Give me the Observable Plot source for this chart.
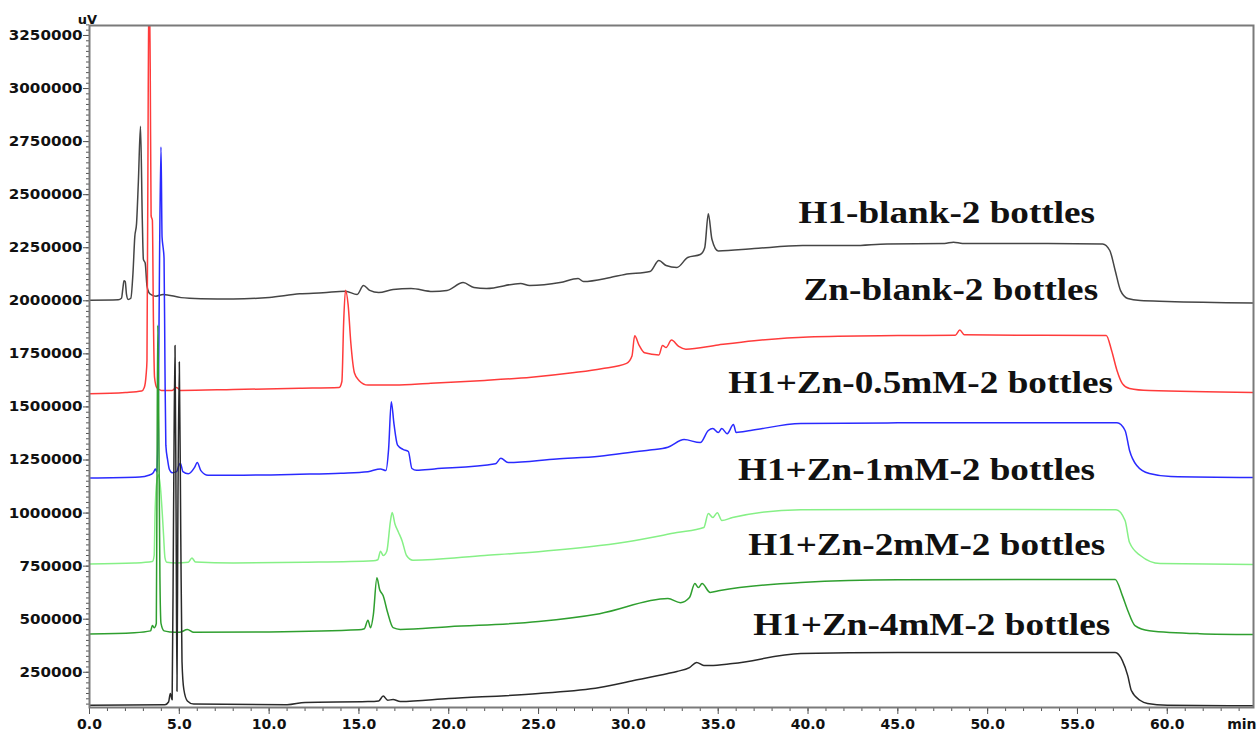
<!DOCTYPE html>
<html>
<head>
<meta charset="utf-8">
<script src="https://cdn.jsdelivr.net/npm/d3@7"></script>
<script src="https://cdn.jsdelivr.net/npm/@observablehq/plot@0.6"></script>
<style>
  html, body { margin: 0; padding: 0; background: #fff; }
  #chart { width: 1257px; height: 733px; }
</style>
</head>
<body>
<div id="chart"></div>
<script>
// ---- Data: [time (min), signal (uV)] ----
const h1Blank = [[0,2003000],[1.6,2005000],[1.78,2012000],[1.86,2060000],[1.92,2095000],[1.99,2090000],[2.06,2030000],[2.15,2006000],[2.3,2012000],[2.42,2130000],[2.52,2300000],[2.62,2365000],[2.72,2560000],[2.84,2822000],[2.94,2380000],[3.0,2195000],[3.1,2178000],[3.2,2070000],[3.3,2040000],[3.45,2028000],[3.7,2022000],[4.1,2030000],[5.1,2015000],[6.2,2010000],[8.0,2008000],[10.0,2016000],[11.7,2033000],[13.0,2038000],[14.25,2045000],[14.9,2030000],[15.25,2072000],[15.6,2049000],[16.1,2039000],[16.9,2053000],[17.9,2058000],[19.1,2044000],[19.9,2049000],[20.8,2086000],[21.4,2063000],[22.1,2058000],[24.0,2082000],[24.5,2072000],[26.2,2086000],[27.2,2105000],[27.5,2091000],[29.0,2110000],[29.8,2124000],[31.2,2138000],[31.7,2190000],[32.1,2166000],[32.7,2157000],[33.3,2204000],[34.0,2218000],[34.25,2250000],[34.45,2410000],[34.65,2290000],[35.0,2235000],[37.0,2246000],[39.7,2260000],[42.5,2260000],[44.4,2268000],[47.6,2270000],[48.1,2276000],[48.6,2270000],[52.0,2270000],[56.4,2268000],[56.8,2237000],[57.1,2143000],[57.4,2048000],[57.8,2011000],[58.5,2001000],[60.0,1997000],[64.8,1990000]];

const znBlank = [[0,1562000],[2,1568000],[2.9,1575000],[3.05,1592000],[3.15,1650000],[3.2,1720000],[3.27,3000000],[3.32,3550000],[3.38,3100000],[3.43,2400000],[3.5,2380000],[3.56,1900000],[3.62,1640000],[3.75,1590000],[4.0,1578000],[4.6,1578000],[4.85,1592000],[5.05,1578000],[8,1582000],[11.7,1588000],[13.9,1592000],[14.05,1620000],[14.15,1900000],[14.25,2050000],[14.4,1980000],[14.55,1800000],[14.75,1660000],[15.0,1625000],[15.5,1603000],[17,1603000],[19,1612000],[22,1625000],[24.6,1640000],[27,1662000],[28.5,1680000],[29.9,1705000],[30.2,1740000],[30.35,1835000],[30.6,1790000],[30.9,1755000],[31.7,1745000],[31.9,1790000],[32.1,1780000],[32.4,1815000],[32.8,1785000],[33.2,1772000],[35.0,1792000],[37,1812000],[40,1830000],[45,1836000],[48.2,1838000],[48.45,1862000],[48.7,1840000],[52,1838000],[56.6,1837000],[56.9,1766000],[57.2,1672000],[57.5,1610000],[57.9,1587000],[59.0,1577000],[64.8,1568000]];

const zn05mM = [[0,1165000],[2.8,1170000],[3.3,1178000],[3.55,1190000],[3.67,1208000],[3.75,1195000],[3.82,1400000],[3.9,2200000],[3.98,2725000],[4.04,2300000],[4.1,2250000],[4.15,2200000],[4.2,1700000],[4.25,1320000],[4.35,1250000],[4.45,1205000],[4.6,1190000],[4.85,1195000],[4.98,1225000],[5.06,1235000],[5.2,1195000],[5.5,1185000],[5.85,1215000],[6.0,1238000],[6.2,1200000],[6.6,1178000],[8,1178000],[11.7,1183000],[14,1188000],[15.5,1195000],[16.2,1208000],[16.5,1200000],[16.65,1300000],[16.8,1525000],[16.95,1420000],[17.15,1320000],[17.45,1300000],[17.75,1290000],[17.95,1210000],[18.2,1202000],[19.2,1208000],[22.6,1232000],[22.9,1258000],[23.3,1238000],[26,1255000],[28.4,1268000],[30.5,1290000],[31.2,1297000],[32.2,1310000],[33.1,1346000],[34.0,1332000],[34.45,1389000],[34.7,1398000],[35.0,1379000],[35.2,1398000],[35.5,1374000],[35.85,1417000],[36.0,1380000],[36.8,1389000],[39.6,1422000],[45,1425000],[50,1426000],[57.2,1425000],[57.65,1389000],[57.9,1295000],[58.3,1224000],[59.0,1186000],[60.2,1172000],[64.8,1167000]];

const zn1mM = [[0,760000],[2.5,765000],[3.5,772000],[3.6,800000],[3.65,1000000],[3.75,1150000],[3.85,1180000],[3.95,1120000],[4.05,1000000],[4.12,900000],[4.2,790000],[4.3,768000],[4.8,765000],[5.5,768000],[5.7,788000],[5.9,770000],[8,765000],[12,768000],[15.8,775000],[16.05,780000],[16.2,820000],[16.35,800000],[16.55,820000],[16.75,960000],[16.85,1003000],[17.0,950000],[17.2,910000],[17.4,870000],[17.65,800000],[18,778000],[22,800000],[25,818000],[28.4,847000],[30.3,870000],[32.7,908000],[34.2,932000],[34.45,998000],[34.7,979000],[34.95,1002000],[35.2,965000],[35.8,979000],[39.6,1016000],[45,1017000],[57.15,1016000],[57.65,965000],[57.9,861000],[58.5,800000],[59.6,762000],[64.8,758000]];

const zn2mM = [[0,430000],[2.5,436000],[3.4,445000],[3.5,470000],[3.6,460000],[3.72,480000],[3.76,1200000],[3.8,1885000],[3.86,1400000],[3.92,700000],[3.98,480000],[4.15,445000],[4.5,440000],[5.0,438000],[5.45,451000],[5.8,438000],[10,440000],[15,450000],[15.3,455000],[15.5,495000],[15.65,460000],[15.8,520000],[16.0,695000],[16.15,640000],[16.35,610000],[16.6,530000],[16.9,460000],[17.3,452000],[20,465000],[25,489000],[28.4,526000],[32.2,597000],[32.9,578000],[33.4,602000],[33.7,668000],[33.9,649000],[34.1,668000],[34.55,626000],[35.1,635000],[39.6,673000],[45,686000],[57.1,687000],[57.5,611000],[57.8,541000],[58.2,470000],[59.0,446000],[61.8,432000],[64.8,428000]];

const zn4mM = [[0,95000],[4.2,97000],[4.4,110000],[4.5,150000],[4.6,120000],[4.68,1000000],[4.76,1790000],[4.82,1000000],[4.87,160000],[4.92,1000000],[5.0,1712000],[5.08,900000],[5.15,300000],[5.25,170000],[5.45,115000],[5.8,100000],[11,97000],[12,108000],[15.5,112000],[16.1,115000],[16.35,138000],[16.6,118000],[16.9,122000],[17.3,112000],[20,126000],[25,150000],[28.4,178000],[30.3,211000],[32.2,244000],[32.7,254000],[33.4,272000],[33.8,296000],[34.2,282000],[34.55,282000],[35.8,291000],[39.6,338000],[45,343000],[57.1,343000],[57.5,305000],[57.8,234000],[58.0,164000],[58.5,117000],[58.9,103000],[60,95000],[64.8,92000]];

const seriesNames = ["H1-blank-2 bottles", "Zn-blank-2 bottles", "H1+Zn-0.5mM-2 bottles", "H1+Zn-1mM-2 bottles", "H1+Zn-2mM-2 bottles", "H1+Zn-4mM-2 bottles"];

// label anchors (right end time, signal level) for each trace name
const labelTime = [55.98, 56.15, 56.98, 55.98, 56.54, 56.82];
const labelLevel = [2412000, 2049000, 1612000, 1202000, 849000, 472000];

const xTickValues = [0, 5, 10, 15, 20, 25, 30, 35, 40, 45, 50, 55, 60];
const xTickLabels = ["0.0", "5.0", "10.0", "15.0", "20.0", "25.0", "30.0", "35.0", "40.0", "45.0", "50.0", "55.0", "60.0"];
const yTickValues = [250000, 500000, 750000, 1000000, 1250000, 1500000, 1750000, 2000000, 2250000, 2500000, 2750000, 3000000, 3250000];
const yTickLabels = ["250000", "500000", "750000", "1000000", "1250000", "1500000", "1750000", "2000000", "2250000", "2500000", "2750000", "3000000", "3250000"];
const xUnit = "min";
const yUnit = "uV";

// ---- Build ----
const seriesData = [h1Blank, znBlank, zn05mM, zn1mM, zn2mM, zn4mM];
const seriesColors = ["#454545", "#ff3b3b", "#2a2aff", "#86f086", "#2f9f2f", "#2a2a2a"];
const rows = seriesData.flatMap((arr, k) => arr.map(([t, v]) => ({series: seriesNames[k], time: t, signal: v})));
const labelRows = seriesNames.map((name, k) => ({label: name, time: labelTime[k], signal: labelLevel[k]}));

const xMinor = d3.range(0, 65, 1);
const yMinor = d3.range(100000, 3300001, 25000);

const lineMarks = seriesNames.map((name, k) =>
  Plot.line(rows.filter(r => r.series === name), {
    x: "time", y: "signal", stroke: seriesColors[k], strokeWidth: 1.5, curve: "monotone-x", clip: true
  })
);

const plot = Plot.plot({
  width: 1257,
  height: 733,
  marginLeft: 89,
  marginRight: 4,
  marginTop: 25,
  marginBottom: 26,
  x: {domain: [0, 64.8], axis: null},
  y: {domain: [84000, 3297000], axis: null},
  style: {fontFamily: "'DejaVu Sans', sans-serif", fontWeight: "bold", fontSize: "14px", color: "#111", background: "#fff"},
  marks: [
    Plot.axisX(xMinor, {tickSize: 4, tickFormat: () => "", label: null, stroke: "#555"}),
    Plot.axisX(xTickValues, {tickSize: 7, tickPadding: 5, fontSize: 14, fontWeight: "bold", fill: "#111", stroke: "#555",
      tickFormat: d => xTickLabels[xTickValues.indexOf(d)], label: null}),
    Plot.axisY(yMinor, {tickSize: 3, tickFormat: () => "", label: null, stroke: "#555"}),
    Plot.axisY(yTickValues, {tickSize: 6, tickPadding: 1, fontSize: 14, fontWeight: "bold", fill: "#111", stroke: "#555",
      tickFormat: d => yTickLabels[yTickValues.indexOf(d)], label: null}),
    ...lineMarks,
    Plot.frame({stroke: "#7a7a7a", strokeWidth: 2}),
    Plot.text(labelRows, {x: "time", y: "signal", text: "label", textAnchor: "end", lineAnchor: "middle",
      fontFamily: "'Liberation Serif', 'Times New Roman', serif", fontWeight: "bold", fontSize: 31, fill: "#111"}),
    Plot.text([yUnit], {frameAnchor: "top-left", text: d => d, textAnchor: "middle", lineAnchor: "bottom",
      dx: -2, dy: -2, fontSize: 13, fontWeight: "bold", fill: "#111"}),
    Plot.text([xUnit], {frameAnchor: "bottom-right", text: d => d, textAnchor: "end", lineAnchor: "top",
      dx: 3, dy: 12, fontSize: 14, fontWeight: "bold", fill: "#111"})
  ]
});

document.getElementById("chart").append(plot);

// widen the series labels and y tick labels like the original (horizontally stretched bold text)
plot.querySelectorAll("text").forEach(el => {
  const s = el.textContent;
  let k = 0;
  if (seriesNames.includes(s)) k = 1.2;
  else if (yTickLabels.includes(s)) k = 1.08;
  if (k) {
    const w = el.getComputedTextLength();
    el.setAttribute("textLength", (w * k).toFixed(1));
    el.setAttribute("lengthAdjust", "spacingAndGlyphs");
  }
});
</script>
</body>
</html>
